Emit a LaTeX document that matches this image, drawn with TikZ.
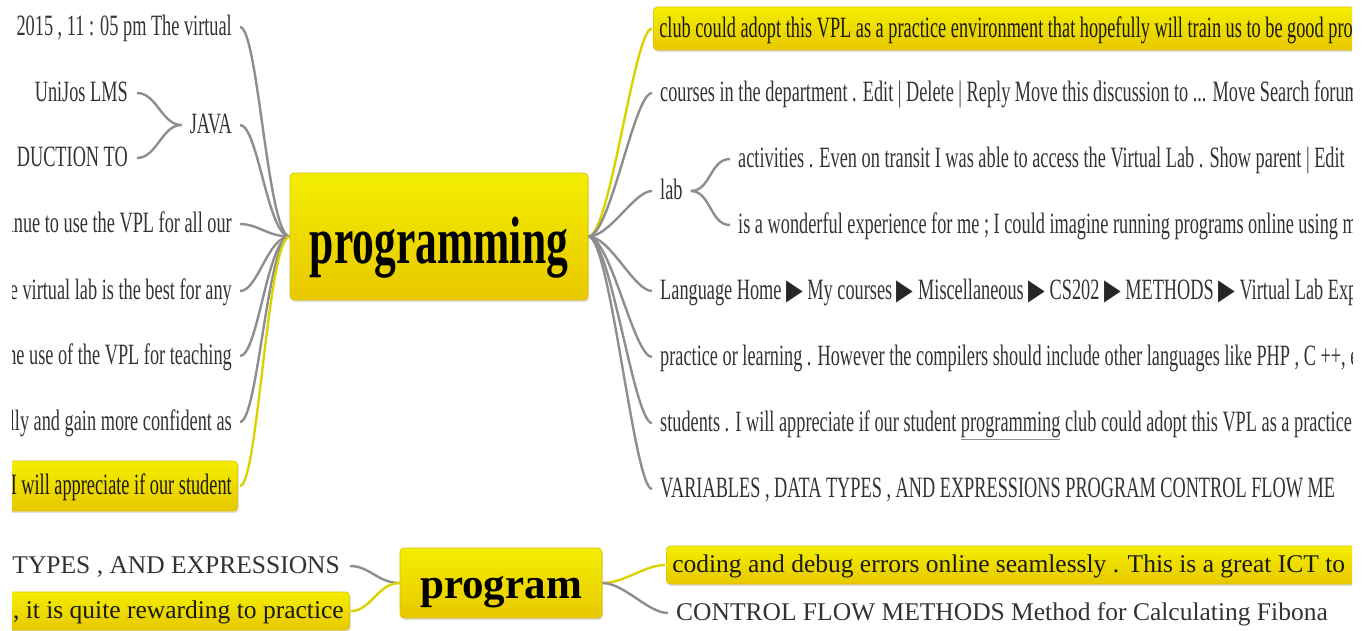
\documentclass[tikz,border=0pt]{standalone}
\usepackage{fontspec}
\usetikzlibrary{shadows}
\setmainfont{Liberation Serif}
\newfontfamily\topfont[FakeStretch=0.62]{Liberation Serif}
\newfontfamily\ctrfont[FakeStretch=0.65]{Liberation Serif}
\newfontfamily\botfont{Liberation Serif}
\newfontfamily\symfont[FakeStretch=0.75]{DejaVu Sans}
\definecolor{txt}{HTML}{333333}
\definecolor{btxt}{HTML}{1A1A1A}
\definecolor{cg}{HTML}{8E8E8E}
\definecolor{cy}{HTML}{DCD200}
\definecolor{ytop}{HTML}{F3EE00}
\definecolor{ybot}{HTML}{E8C800}
\definecolor{yedge}{HTML}{DCC000}
\newcommand{\tri}{{\symfont\fontsize{29}{29}\selectfont\color{black!85}▶}}
\newcommand{\ulgray}[1]{{\color{cg}\underline{\color{txt}#1}}}
\begin{document}
\begin{tikzpicture}[x=1pt,y=-1pt,
  conn/.style={draw=cg, line width=2.4pt},
  yconn/.style={draw=cy, line width=2.4pt},
  ttext/.style={inner sep=0pt, text height=21pt, text depth=4pt, font=\topfont\fontsize{29.5}{30}\selectfont, text=txt},
  btext/.style={inner sep=0pt, text height=19pt, text depth=4pt, font=\botfont\fontsize{25.5}{27}\selectfont, text=txt},
  ybox/.style={rounded corners=4pt, top color=ytop, bottom color=ybot, draw=yedge, line width=0.6pt,
    drop shadow={shadow xshift=1pt, shadow yshift=-2pt, opacity=0.25, fill=black!50}},
  tbox/.style={ybox, ttext, text=btxt, inner xsep=6pt, inner ysep=0pt},
  bbox/.style={ybox, btext, text=btxt, inner xsep=6pt, inner ysep=0pt},
]
\useasboundingbox (0,0) rectangle (1368,630);
\begin{scope}
\clip (12,0) rectangle (1352,630);

% ---------- top map: nodes ----------
\node[ybox, inner sep=0pt, minimum width=298pt, minimum height=127pt,
      text height=70pt, text depth=17pt,
      font=\ctrfont\bfseries\fontsize{67}{70}\selectfont, text=black] (prog) at (439,236.5) {programming};

\node[ttext, anchor=east] (l1) at (232,27) {t\, 2015 , 11 : 05 pm The virtual};
\node[ttext, anchor=east] (java) at (232,125) {JAVA};
\node[ttext, anchor=east] (j1) at (128,93) {UniJos LMS};
\node[ttext, anchor=east] (j2) at (128,158) {DUCTION TO};
\node[ttext, anchor=east] (l3) at (232,224) {inue to use the VPL for all our};
\node[ttext, anchor=east] (l4) at (232,291) {e virtual lab is the best for any};
\node[ttext, anchor=east] (l5) at (232,356) {he use of the VPL for teaching};
\node[ttext, anchor=east] (l6) at (232,422) {lly and gain more confident as};
\node[tbox, anchor=east, minimum height=50pt] (l7) at (238,486) {\makebox[320pt][r]{I will appreciate if our student}};

\node[tbox, anchor=west, minimum height=43pt] (r1) at (653,28.5) {\makebox[700pt][l]{club could adopt this VPL as a practice environment that hopefully will train us to be good prog}};
\node[ttext, anchor=west] (r2) at (660,93) {courses in the department . Edit | Delete | Reply Move this discussion to ... Move Search forum};
\node[ttext, anchor=west] (lab) at (660,191) {lab};
\node[ttext, anchor=west] (a1) at (738,159) {activities . Even on transit I was able to access the Virtual Lab . Show parent | Edit};
\node[ttext, anchor=west] (a2) at (738,225) {is a wonderful experience for me ; I could imagine running programs online using my};
\node[ttext, anchor=west] (r4) at (660,291) {Language Home \tri{} My courses \tri{} Miscellaneous \tri{} CS202 \tri{} METHODS \tri{} Virtual Lab Exp};
\node[ttext, anchor=west] (r5) at (660,357) {practice or learning . However the compilers should include other languages like PHP , C ++, e};
\node[ttext, anchor=west] (r6) at (660,423) {students . I will appreciate if our student \ulgray{programming} club could adopt this VPL as a practice e};
\node[ttext, anchor=west] (r7) at (660,489) {VARIABLES , DATA TYPES , AND EXPRESSIONS PROGRAM CONTROL FLOW ME};

% ---------- top map: connectors ----------
\draw[conn] (prog.west) .. controls +(-22,0) and +(18,0) .. ([xshift=8pt]l1.east);
\draw[conn] (prog.west) .. controls +(-22,0) and +(18,0) .. ([xshift=8pt]java.east);
\draw[conn] (prog.west) .. controls +(-22,0) and +(18,0) .. ([xshift=8pt]l3.east);
\draw[conn] (prog.west) .. controls +(-22,0) and +(18,0) .. ([xshift=8pt]l4.east);
\draw[conn] (prog.west) .. controls +(-22,0) and +(18,0) .. ([xshift=8pt]l5.east);
\draw[conn] (prog.west) .. controls +(-22,0) and +(18,0) .. ([xshift=8pt]l6.east);
\draw[yconn] (prog.west) .. controls +(-22,0) and +(18,0) .. ([xshift=2pt]l7.east);
\draw[conn] ([xshift=-8pt]java.west) .. controls +(-20,0) and +(20,0) .. ([xshift=9pt]j1.east);
\draw[conn] ([xshift=-8pt]java.west) .. controls +(-20,0) and +(20,0) .. ([xshift=9pt]j2.east);

\draw[yconn] (prog.east) .. controls +(22,0) and +(-18,0) .. ([xshift=-1pt]r1.west);
\draw[conn] (prog.east) .. controls +(22,0) and +(-18,0) .. ([xshift=-8pt]r2.west);
\draw[conn] (prog.east) .. controls +(22,0) and +(-18,0) .. ([xshift=-8pt]lab.west);
\draw[conn] (prog.east) .. controls +(22,0) and +(-18,0) .. ([xshift=-8pt]r4.west);
\draw[conn] (prog.east) .. controls +(22,0) and +(-18,0) .. ([xshift=-8pt]r5.west);
\draw[conn] (prog.east) .. controls +(22,0) and +(-18,0) .. ([xshift=-8pt]r6.west);
\draw[conn] (prog.east) .. controls +(22,0) and +(-18,0) .. ([xshift=-8pt]r7.west);
\draw[conn] ([xshift=8pt]lab.east) .. controls +(20,0) and +(-20,0) .. ([xshift=-8pt]a1.west);
\draw[conn] ([xshift=8pt]lab.east) .. controls +(20,0) and +(-20,0) .. ([xshift=-8pt]a2.west);

% ---------- bottom map ----------
\node[ybox, inner sep=0pt, minimum width=202pt, minimum height=70pt,
      text height=42pt, text depth=12pt,
      font=\botfont\bfseries\fontsize{43}{45}\selectfont, text=black] (pg) at (501,583) {program};
\node[btext, anchor=east] (b1) at (340,566) {TYPES , AND EXPRESSIONS};
\node[bbox, anchor=east, minimum height=38pt] (b2) at (350,611) {\makebox[420pt][r]{, it is quite rewarding to practice}};
\node[bbox, anchor=west, minimum height=38pt] (b3) at (666,565) {\makebox[700pt][l]{coding and debug errors online seamlessly . This is a great ICT to}};
\node[btext, anchor=west] (b4) at (676,613) {CONTROL FLOW METHODS Method for Calculating Fibona};

\draw[conn] (pg.west) .. controls +(-22,0) and +(20,0) .. ([xshift=10pt]b1.east);
\draw[yconn] (pg.west) .. controls +(-22,0) and +(20,0) .. ([xshift=1pt]b2.east);
\draw[yconn] (pg.east) .. controls +(22,0) and +(-20,0) .. ([xshift=-1pt]b3.west);
\draw[conn] (pg.east) .. controls +(22,0) and +(-20,0) .. ([xshift=-8pt]b4.west);
\end{scope}
\end{tikzpicture}
\end{document}
